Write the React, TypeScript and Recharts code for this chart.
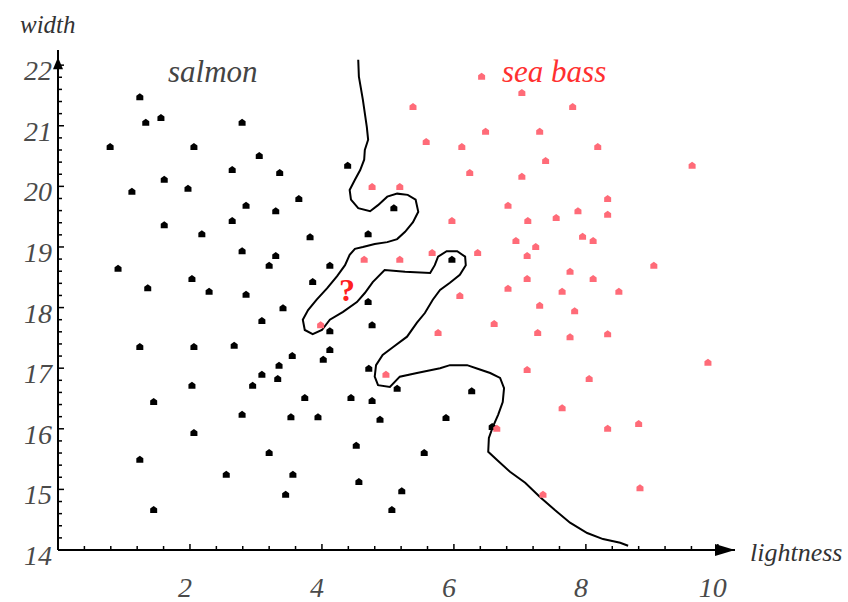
import { ScatterChart, Scatter, XAxis, YAxis, ReferenceDot } from "recharts";

// salmon samples (black)
const salmon = [
  { x: 1.24, y: 21.47 }, { x: 1.33, y: 21.05 }, { x: 1.56, y: 21.13 }, { x: 2.79, y: 21.05 },
  { x: 0.79, y: 20.65 }, { x: 2.06, y: 20.65 }, { x: 3.05, y: 20.5 }, { x: 2.64, y: 20.27 },
  { x: 3.36, y: 20.22 }, { x: 4.39, y: 20.34 }, { x: 1.61, y: 20.11 }, { x: 1.12, y: 19.91 },
  { x: 1.97, y: 19.96 }, { x: 2.85, y: 19.68 }, { x: 3.65, y: 19.79 }, { x: 3.3, y: 19.59 },
  { x: 5.09, y: 19.64 }, { x: 1.61, y: 19.36 }, { x: 2.64, y: 19.43 }, { x: 2.18, y: 19.21 },
  { x: 3.82, y: 19.16 }, { x: 4.7, y: 19.21 }, { x: 2.79, y: 18.93 }, { x: 3.3, y: 18.85 },
  { x: 3.2, y: 18.69 }, { x: 4.12, y: 18.69 }, { x: 0.91, y: 18.64 }, { x: 2.03, y: 18.47 },
  { x: 3.86, y: 18.42 }, { x: 1.36, y: 18.32 }, { x: 2.29, y: 18.26 }, { x: 2.85, y: 18.21 },
  { x: 3.41, y: 17.99 }, { x: 3.09, y: 17.78 }, { x: 4.7, y: 18.09 }, { x: 4.76, y: 17.71 },
  { x: 4.12, y: 17.61 }, { x: 1.24, y: 17.35 }, { x: 2.06, y: 17.35 }, { x: 2.67, y: 17.37 },
  { x: 3.55, y: 17.2 }, { x: 4.12, y: 17.3 }, { x: 3.35, y: 17.04 }, { x: 4.02, y: 17.14 },
  { x: 4.71, y: 16.99 }, { x: 3.09, y: 16.89 }, { x: 3.33, y: 16.82 }, { x: 2.03, y: 16.71 },
  { x: 2.95, y: 16.71 }, { x: 5.14, y: 16.66 }, { x: 1.45, y: 16.44 }, { x: 3.74, y: 16.51 },
  { x: 4.44, y: 16.51 }, { x: 4.76, y: 16.46 }, { x: 2.79, y: 16.23 }, { x: 3.53, y: 16.19 },
  { x: 3.94, y: 16.19 }, { x: 4.88, y: 16.15 }, { x: 2.06, y: 15.93 }, { x: 4.52, y: 15.72 },
  { x: 3.2, y: 15.6 }, { x: 5.55, y: 15.6 }, { x: 1.24, y: 15.49 }, { x: 2.55, y: 15.24 },
  { x: 3.56, y: 15.24 }, { x: 4.56, y: 15.12 }, { x: 3.45, y: 14.91 }, { x: 5.21, y: 14.97 },
  { x: 1.45, y: 14.66 }, { x: 5.06, y: 14.66 }, { x: 5.97, y: 18.79 }, { x: 6.27, y: 16.62 },
  { x: 5.88, y: 16.18 }, { x: 6.58, y: 16.03 },
];

// sea bass samples (pink)
const seaBass = [
  { x: 4.76, y: 19.99 }, { x: 5.18, y: 19.99 }, { x: 5.38, y: 21.31 }, { x: 5.58, y: 20.73 },
  { x: 4.64, y: 18.79 }, { x: 5.18, y: 18.79 }, { x: 5.67, y: 18.9 }, { x: 6.42, y: 21.81 },
  { x: 7.03, y: 21.54 }, { x: 7.8, y: 21.31 }, { x: 6.48, y: 20.9 }, { x: 7.3, y: 20.9 },
  { x: 6.12, y: 20.65 }, { x: 8.18, y: 20.65 }, { x: 7.39, y: 20.42 }, { x: 9.61, y: 20.34 },
  { x: 6.24, y: 20.22 }, { x: 7.03, y: 20.16 }, { x: 8.33, y: 19.79 }, { x: 6.82, y: 19.68 },
  { x: 7.88, y: 19.59 }, { x: 8.33, y: 19.53 }, { x: 5.97, y: 19.43 }, { x: 7.12, y: 19.43 },
  { x: 7.55, y: 19.48 }, { x: 6.94, y: 19.1 }, { x: 7.24, y: 19.0 }, { x: 7.95, y: 19.17 },
  { x: 8.11, y: 19.1 }, { x: 6.36, y: 18.9 }, { x: 7.11, y: 18.85 }, { x: 9.03, y: 18.69 },
  { x: 7.76, y: 18.59 }, { x: 7.11, y: 18.47 }, { x: 8.11, y: 18.47 }, { x: 6.82, y: 18.31 },
  { x: 7.64, y: 18.26 }, { x: 8.5, y: 18.26 }, { x: 6.09, y: 18.19 }, { x: 7.3, y: 18.03 },
  { x: 7.83, y: 17.94 }, { x: 6.61, y: 17.73 }, { x: 5.76, y: 17.58 }, { x: 7.27, y: 17.58 },
  { x: 7.76, y: 17.51 }, { x: 8.33, y: 17.56 }, { x: 7.11, y: 16.97 }, { x: 8.05, y: 16.82 },
  { x: 9.85, y: 17.09 }, { x: 7.64, y: 16.34 }, { x: 6.65, y: 16.0 }, { x: 8.33, y: 16.0 },
  { x: 8.8, y: 16.08 }, { x: 7.35, y: 14.91 }, { x: 8.82, y: 15.02 }, { x: 3.98, y: 17.71 },
  { x: 4.97, y: 16.89 },
];

// decision boundary, in drawing order
const boundary = [
  { x: 4.55, y: 22.09 }, { x: 4.56, y: 21.81 }, { x: 4.62, y: 21.43 }, { x: 4.68, y: 20.98 },
  { x: 4.7, y: 20.77 }, { x: 4.65, y: 20.6 }, { x: 4.64, y: 20.44 }, { x: 4.58, y: 20.27 },
  { x: 4.5, y: 20.11 }, { x: 4.42, y: 19.94 }, { x: 4.44, y: 19.78 }, { x: 4.55, y: 19.64 },
  { x: 4.73, y: 19.59 }, { x: 4.85, y: 19.69 }, { x: 4.99, y: 19.83 }, { x: 5.14, y: 19.88 },
  { x: 5.3, y: 19.86 }, { x: 5.42, y: 19.78 }, { x: 5.46, y: 19.58 }, { x: 5.38, y: 19.41 },
  { x: 5.26, y: 19.25 }, { x: 5.14, y: 19.13 }, { x: 4.99, y: 19.08 }, { x: 4.8, y: 19.05 },
  { x: 4.62, y: 19.0 }, { x: 4.5, y: 18.97 }, { x: 4.42, y: 18.87 }, { x: 4.35, y: 18.7 },
  { x: 4.23, y: 18.52 }, { x: 4.08, y: 18.32 }, { x: 3.92, y: 18.13 }, { x: 3.79, y: 17.96 },
  { x: 3.71, y: 17.8 }, { x: 3.74, y: 17.63 }, { x: 3.86, y: 17.56 }, { x: 4.0, y: 17.63 },
  { x: 4.12, y: 17.8 }, { x: 4.32, y: 17.93 }, { x: 4.53, y: 18.09 }, { x: 4.65, y: 18.24 },
  { x: 4.77, y: 18.42 }, { x: 4.95, y: 18.62 }, { x: 5.26, y: 18.59 }, { x: 5.64, y: 18.57 },
  { x: 5.71, y: 18.7 }, { x: 5.76, y: 18.84 }, { x: 5.89, y: 18.93 }, { x: 6.05, y: 18.93 },
  { x: 6.17, y: 18.84 }, { x: 6.18, y: 18.7 }, { x: 6.09, y: 18.54 }, { x: 5.94, y: 18.41 },
  { x: 5.79, y: 18.29 }, { x: 5.68, y: 18.13 }, { x: 5.56, y: 17.91 }, { x: 5.44, y: 17.75 },
  { x: 5.29, y: 17.52 }, { x: 5.08, y: 17.35 }, { x: 4.92, y: 17.22 }, { x: 4.82, y: 17.05 },
  { x: 4.8, y: 16.86 }, { x: 4.85, y: 16.72 }, { x: 5.03, y: 16.69 }, { x: 5.18, y: 16.86 },
  { x: 5.44, y: 16.92 }, { x: 5.79, y: 17.0 }, { x: 5.94, y: 17.05 }, { x: 6.2, y: 17.05 },
  { x: 6.36, y: 16.99 }, { x: 6.55, y: 16.92 }, { x: 6.7, y: 16.84 }, { x: 6.76, y: 16.67 },
  { x: 6.74, y: 16.44 }, { x: 6.67, y: 16.23 }, { x: 6.59, y: 16.03 }, { x: 6.53, y: 15.85 },
  { x: 6.52, y: 15.62 }, { x: 6.65, y: 15.49 }, { x: 6.85, y: 15.29 }, { x: 7.08, y: 15.11 },
  { x: 7.3, y: 14.88 }, { x: 7.53, y: 14.66 }, { x: 7.76, y: 14.45 }, { x: 8.02, y: 14.28 },
  { x: 8.26, y: 14.18 }, { x: 8.52, y: 14.12 }, { x: 8.64, y: 14.07 },
];

// the unknown sample
const query = [{ x: 4.38, y: 18.29 }];

const xMajor = [2, 4, 6, 8, 10];
const xMinor = [0.4, 0.8, 1.2, 1.6, 2.4, 2.8, 3.2, 3.6, 4.4, 4.8, 5.2, 5.6, 6.4, 6.8, 7.2, 7.6, 8.4, 8.8, 9.2, 9.6];
const yMajor = [14, 15, 16, 17, 18, 19, 20, 21, 22];
const yMinor = [
  14.2, 14.4, 14.6, 14.8, 15.2, 15.4, 15.6, 15.8, 16.2, 16.4, 16.6, 16.8, 17.2, 17.4, 17.6, 17.8,
  18.2, 18.4, 18.6, 18.8, 19.2, 19.4, 19.6, 19.8, 20.2, 20.4, 20.6, 20.8, 21.2, 21.4, 21.6, 21.8,
];

const X_END = 10.26;
const Y_END = 22.25;

const labelFont = "Liberation Serif, Times New Roman, serif";

function XTick({ x, y, payload }: any) {
  const major = xMajor.includes(payload.value);
  return (
    <g>
      <line x1={x} x2={x} y1={y} y2={y - (major ? 6 : 4)} stroke="#000" strokeWidth={1.5} />
      {major && (
        <text x={x - 5} y={y + 47} textAnchor="middle" fontFamily={labelFont} fontStyle="italic" fontSize={28} fill="#4a4a4a">
          {payload.value}
        </text>
      )}
    </g>
  );
}

function YTick({ x, y, payload }: any) {
  const major = yMajor.includes(payload.value);
  return (
    <g>
      <line x1={x} x2={x + (major ? 6 : 4)} y1={y} y2={y} stroke="#000" strokeWidth={1.5} />
      {major && (
        <text x={x - 6} y={y + 15} textAnchor="end" fontFamily={labelFont} fontStyle="italic" fontSize={28} fill="#4a4a4a">
          {payload.value}
        </text>
      )}
    </g>
  );
}

// small pentagon marker, like the reference's "house" glyphs
const fishMarker = (color: string) => (props: any) => {
  const { cx, cy } = props;
  return (
    <path
      d={`M${cx},${cy - 4} L${cx + 3.5},${cy - 1.5} L${cx + 3.5},${cy + 3} L${cx - 3.5},${cy + 3} L${cx - 3.5},${cy - 1.5} Z`}
      fill={color}
    />
  );
};

const noShape = () => <g />;

export default function App() {
  return (
    <div style={{ position: "relative", width: 848, height: 602, background: "#fff" }}>
      <style>{"body{margin:0}"}</style>
      <ScatterChart width={848} height={602} margin={{ top: 50, right: 113, bottom: 0, left: 0 }}>
        <XAxis
          type="number"
          dataKey="x"
          domain={[0, X_END]}
          ticks={[...xMinor, ...xMajor].sort((a, b) => a - b)}
          interval={0}
          tick={<XTick />}
          tickLine={false}
          tickSize={0}
          tickMargin={0}
          height={52}
          axisLine={{ stroke: "#000", strokeWidth: 2 }}
        />
        <YAxis
          type="number"
          dataKey="y"
          domain={[14, Y_END]}
          ticks={[...yMinor, ...yMajor].sort((a, b) => a - b)}
          interval={0}
          tick={<YTick />}
          tickLine={false}
          tickSize={0}
          tickMargin={0}
          width={58}
          axisLine={{ stroke: "#000", strokeWidth: 2 }}
        />
        <Scatter
          data={boundary}
          line={{ stroke: "#000", strokeWidth: 2 }}
          lineType="joint"
          shape={noShape}
          isAnimationActive={false}
        />
        <Scatter data={salmon} shape={fishMarker("#000")} isAnimationActive={false} />
        <Scatter data={seaBass} shape={fishMarker("#ff6b78")} isAnimationActive={false} />
        <ReferenceDot
          x={query[0].x}
          y={query[0].y}
          shape={(p: any) => (
            <text x={p.cx} y={p.cy + 11} textAnchor="middle" fontFamily={labelFont} fontWeight="bold" fontSize={32} fill="#ff2020">
              ?
            </text>
          )}
        />
        <ReferenceDot
          x={X_END}
          y={14}
          shape={(p: any) => (
            <path d={`M${p.cx},${p.cy} L${p.cx - 20},${p.cy - 6} L${p.cx - 20},${p.cy + 6} Z`} fill="#000" />
          )}
        />
        <ReferenceDot
          x={0}
          y={22.13}
          shape={(p: any) => (
            <path d={`M${p.cx},${p.cy} L${p.cx - 5},${p.cy + 12} L${p.cx + 5},${p.cy + 12} Z`} fill="#000" />
          )}
        />
      </ScatterChart>
      <svg width={848} height={602} style={{ position: "absolute", left: 0, top: 0, pointerEvents: "none" }}>
        <g fontFamily={labelFont} fontStyle="italic">
          <text x={20} y={33} fontSize={25} fill="#333">width</text>
          <text x={750} y={561} fontSize={26} fill="#333">lightness</text>
          <text x={168} y={82} fontSize={31} fill="#444">salmon</text>
          <text x={502} y={82} fontSize={31} fill="#ff3030">sea bass</text>
        </g>
      </svg>
    </div>
  );
}
